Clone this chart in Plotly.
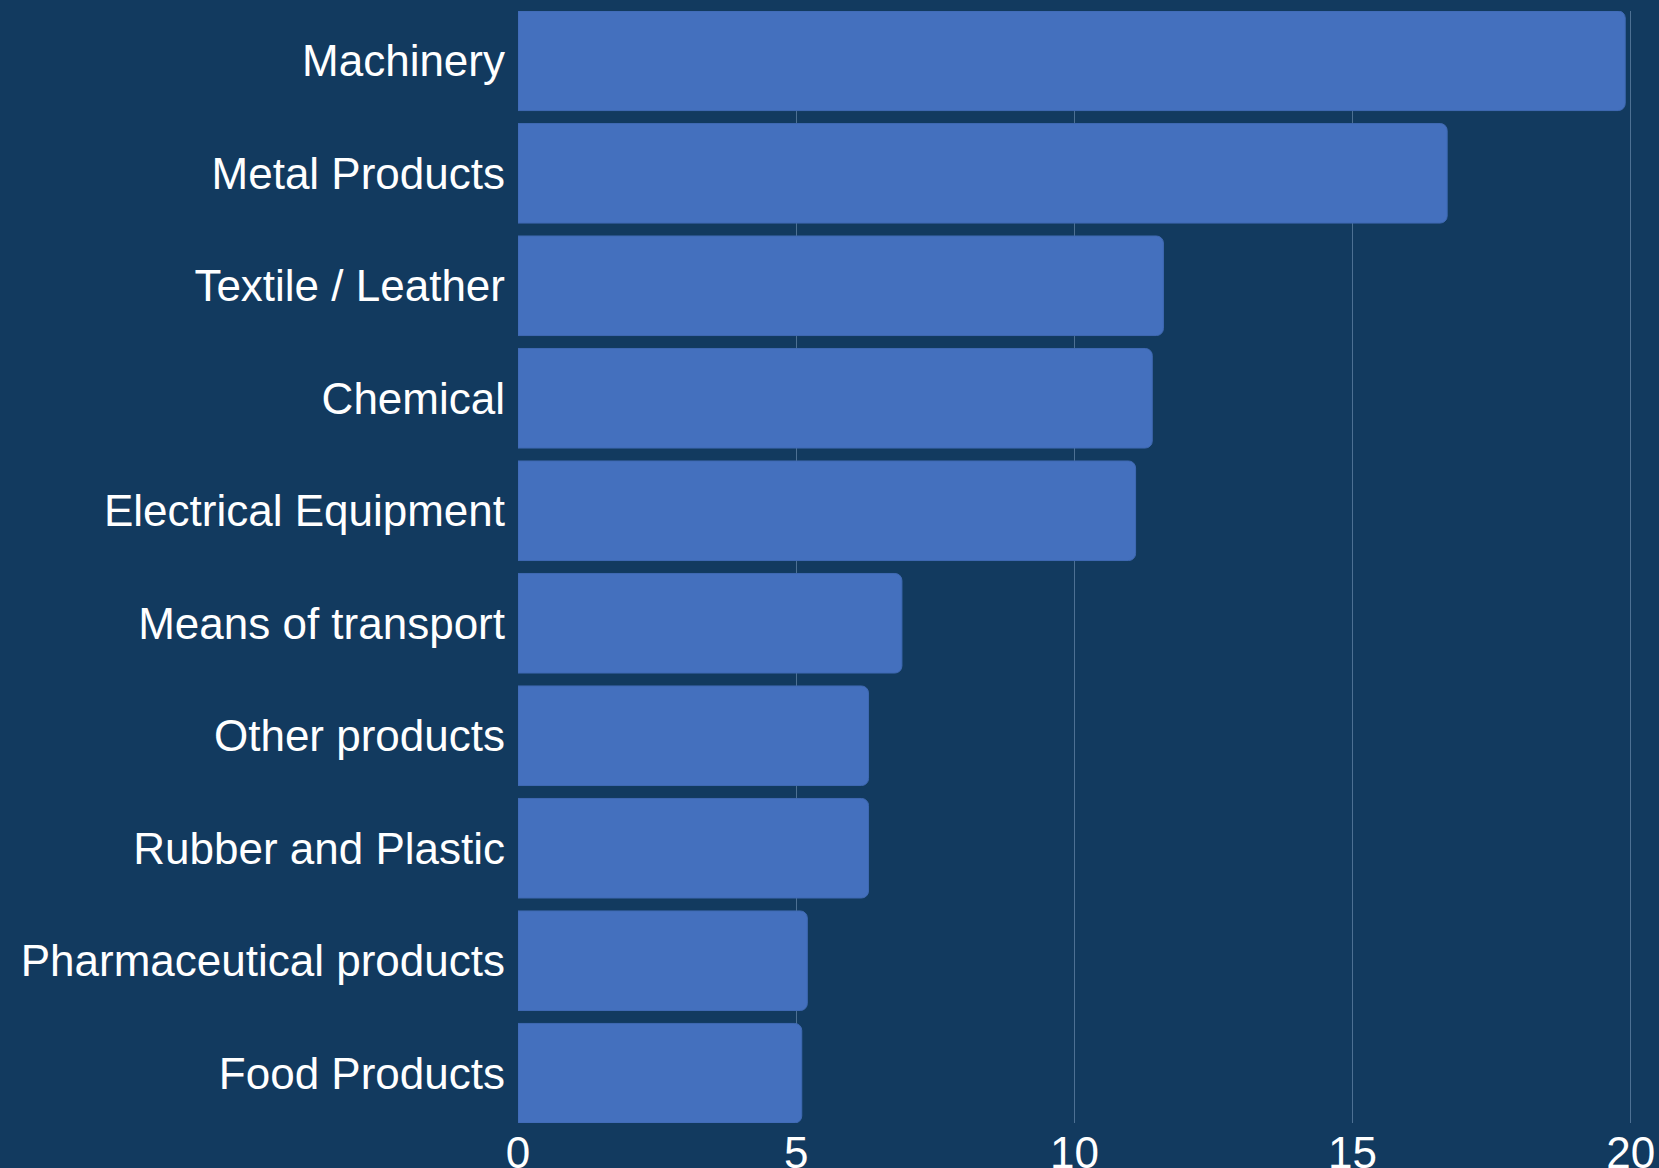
import plotly.graph_objects as go

categories = ["Machinery", "Metal Products", "Textile / Leather", "Chemical",
              "Electrical Equipment", "Means of transport", "Other products",
              "Rubber and Plastic", "Pharmaceutical products", "Food Products"]
values = [19.9, 16.7, 11.6, 11.4, 11.1, 6.9, 6.3, 6.3, 5.2, 5.1]
x_ticks = [0, 5, 10, 15, 20]

BG = "#123a5f"
BAR = "#4470be"
GAP = 0.115

fig = go.Figure(go.Bar(
    x=values, y=categories, orientation="h",
    marker=dict(color=BAR, line=dict(color="#3f69b2", width=1)),
    hoverinfo="skip",
))

n = len(categories)
fig.update_layout(
    width=1659, height=1168,
    margin=dict(l=518, r=26, t=11, b=45),
    paper_bgcolor=BG, plot_bgcolor=BG,
    bargap=GAP,
    barcornerradius=7,
    showlegend=False,
    font=dict(family="Liberation Sans, Arial, sans-serif", size=44, color="white"),
    xaxis=dict(range=[0, 20.04], tickvals=x_ticks, ticktext=[str(t) for t in x_ticks],
               showgrid=True, gridcolor="rgba(150,180,210,0.45)", gridwidth=1,
               zeroline=False, showline=False, ticks="", automargin=False,
               tickfont=dict(size=44, color="white")),
    yaxis=dict(range=[n - 0.5 - GAP / 2, -0.5 + GAP / 2],
               categoryorder="array", categoryarray=categories,
               showgrid=False, zeroline=False, showline=False,
               ticks="", ticklabelstandoff=12, automargin=False,
               tickfont=dict(size=44, color="white")),
)

fig.write_html("out.html")
